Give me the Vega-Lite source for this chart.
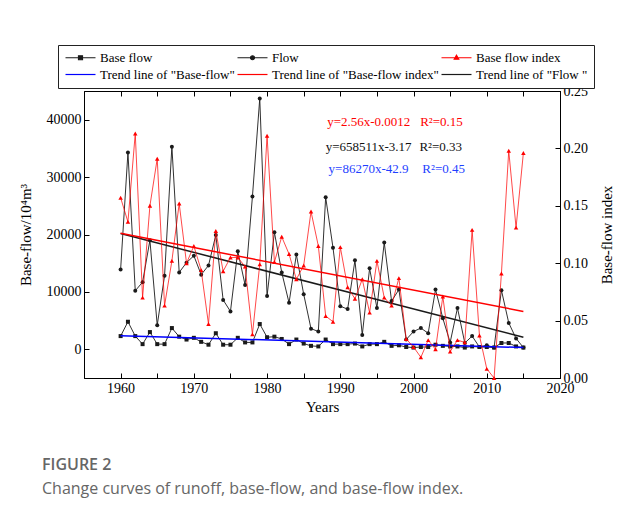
{
  "$schema": "https://vega.github.io/schema/vega-lite/v6.json",
  "width": 476,
  "height": 287,
  "autosize": {"type": "none"},
  "padding": {"left": 84, "top": 91, "right": 59, "bottom": 133},
  "background": "white",
  "config": {
    "view": {"stroke": "black", "strokeWidth": 1},
    "font": "Liberation Serif",
    "axis": {
      "labelFont": "Liberation Serif",
      "titleFont": "Liberation Serif",
      "labelFontSize": 14,
      "titleFontSize": 15,
      "titleFontWeight": "normal",
      "labelColor": "black",
      "titleColor": "black",
      "domainColor": "black",
      "tickColor": "black",
      "grid": false,
      "tickSize": -5,
      "labelPadding": 8,
      "labelOverlap": false
    }
  },
  "datasets": {
    "main": [
      {"year": 1960, "Flow": 13900, "Base flow": 2300, "Base flow index": 0.157},
      {"year": 1961, "Flow": 34300, "Base flow": 4800, "Base flow index": 0.136},
      {"year": 1962, "Flow": 10200, "Base flow": 2300, "Base flow index": 0.213},
      {"year": 1963, "Flow": 11700, "Base flow": 900, "Base flow index": 0.070},
      {"year": 1964, "Flow": 19000, "Base flow": 3000, "Base flow index": 0.150},
      {"year": 1965, "Flow": 4200, "Base flow": 900, "Base flow index": 0.191},
      {"year": 1966, "Flow": 12800, "Base flow": 900, "Base flow index": 0.063},
      {"year": 1967, "Flow": 35300, "Base flow": 3700, "Base flow index": 0.102},
      {"year": 1968, "Flow": 13400, "Base flow": 2200, "Base flow index": 0.152},
      {"year": 1969, "Flow": 15100, "Base flow": 1700, "Base flow index": 0.100},
      {"year": 1970, "Flow": 16300, "Base flow": 2000, "Base flow index": 0.115},
      {"year": 1971, "Flow": 13000, "Base flow": 1300, "Base flow index": 0.094},
      {"year": 1972, "Flow": 14600, "Base flow": 800, "Base flow index": 0.047},
      {"year": 1973, "Flow": 19900, "Base flow": 2800, "Base flow index": 0.128},
      {"year": 1974, "Flow": 8600, "Base flow": 800, "Base flow index": 0.093},
      {"year": 1975, "Flow": 6600, "Base flow": 800, "Base flow index": 0.105},
      {"year": 1976, "Flow": 17100, "Base flow": 2000, "Base flow index": 0.105},
      {"year": 1977, "Flow": 11200, "Base flow": 1200, "Base flow index": 0.097},
      {"year": 1978, "Flow": 26600, "Base flow": 1200, "Base flow index": 0.038},
      {"year": 1979, "Flow": 43700, "Base flow": 4400, "Base flow index": 0.099},
      {"year": 1980, "Flow": 9300, "Base flow": 2100, "Base flow index": 0.211},
      {"year": 1981, "Flow": 20400, "Base flow": 2200, "Base flow index": 0.101},
      {"year": 1982, "Flow": 13400, "Base flow": 1800, "Base flow index": 0.123},
      {"year": 1983, "Flow": 8100, "Base flow": 900, "Base flow index": 0.108},
      {"year": 1984, "Flow": 16500, "Base flow": 1700, "Base flow index": 0.086},
      {"year": 1985, "Flow": 9600, "Base flow": 1000, "Base flow index": 0.098},
      {"year": 1986, "Flow": 3600, "Base flow": 600, "Base flow index": 0.145},
      {"year": 1987, "Flow": 3100, "Base flow": 500, "Base flow index": 0.115},
      {"year": 1988, "Flow": 26500, "Base flow": 1700, "Base flow index": 0.054},
      {"year": 1989, "Flow": 17700, "Base flow": 900, "Base flow index": 0.049},
      {"year": 1990, "Flow": 7500, "Base flow": 900, "Base flow index": 0.114},
      {"year": 1991, "Flow": 7000, "Base flow": 900, "Base flow index": 0.079},
      {"year": 1992, "Flow": 15500, "Base flow": 1000, "Base flow index": 0.069},
      {"year": 1993, "Flow": 2500, "Base flow": 500, "Base flow index": 0.086},
      {"year": 1994, "Flow": 14100, "Base flow": 900, "Base flow index": 0.057},
      {"year": 1995, "Flow": 7200, "Base flow": 900, "Base flow index": 0.102},
      {"year": 1996, "Flow": 18600, "Base flow": 1300, "Base flow index": 0.070},
      {"year": 1997, "Flow": 8400, "Base flow": 600, "Base flow index": 0.063},
      {"year": 1998, "Flow": 10400, "Base flow": 700, "Base flow index": 0.087},
      {"year": 1999, "Flow": 1700, "Base flow": 400, "Base flow index": 0.034},
      {"year": 2000, "Flow": 3100, "Base flow": 300, "Base flow index": 0.027},
      {"year": 2001, "Flow": 3700, "Base flow": 400, "Base flow index": 0.018},
      {"year": 2002, "Flow": 2800, "Base flow": 400, "Base flow index": 0.033},
      {"year": 2003, "Flow": 10400, "Base flow": 800, "Base flow index": 0.025},
      {"year": 2004, "Flow": 5400, "Base flow": 600, "Base flow index": 0.071},
      {"year": 2005, "Flow": 1200, "Base flow": 500, "Base flow index": 0.023},
      {"year": 2006, "Flow": 7200, "Base flow": 500, "Base flow index": 0.033},
      {"year": 2007, "Flow": 1100, "Base flow": 300, "Base flow index": 0.031},
      {"year": 2008, "Flow": 2300, "Base flow": 500, "Base flow index": 0.129},
      {"year": 2009, "Flow": 400, "Base flow": 400, "Base flow index": 0.037},
      {"year": 2010, "Flow": 700, "Base flow": 400, "Base flow index": 0.008},
      {"year": 2011, "Flow": 300, "Base flow": 300, "Base flow index": 0.0},
      {"year": 2012, "Flow": 10300, "Base flow": 1100, "Base flow index": 0.091},
      {"year": 2013, "Flow": 4600, "Base flow": 1100, "Base flow index": 0.198},
      {"year": 2014, "Flow": 1900, "Base flow": 500, "Base flow index": 0.131},
      {"year": 2015, "Flow": 300, "Base flow": 300, "Base flow index": 0.196}
    ],
    "trendLeft": [
      {"series": "Trend line of \"Base-flow\"", "year": 1960, "value": 2380},
      {"series": "Trend line of \"Base-flow\"", "year": 2015, "value": 300},
      {"series": "Trend line of \"Flow \"", "year": 1960, "value": 20170},
      {"series": "Trend line of \"Flow \"", "year": 2015, "value": 2100}
    ],
    "trendRight": [
      {"series": "Trend line of \"Base-flow index\"", "year": 1960, "value": 0.126},
      {"series": "Trend line of \"Base-flow index\"", "year": 2015, "value": 0.058}
    ]
  },
  "title": {
    "text": "FIGURE 2",
    "subtitle": "Change curves of runoff, base-flow, and base-flow index.",
    "orient": "bottom",
    "anchor": "start",
    "frame": "group",
    "dx": -42,
    "offset": 43,
    "font": "Open Sans",
    "fontSize": 16,
    "fontWeight": 600,
    "color": "#666666",
    "subtitleFont": "Open Sans",
    "subtitleFontSize": 16,
    "subtitleColor": "#666666",
    "subtitlePadding": 8
  },
  "layer": [
    {
      "layer": [
        {
          "data": {"name": "main"},
          "transform": [{"fold": ["Base flow", "Flow"], "as": ["series", "value"]}],
          "mark": {"type": "line", "strokeWidth": 0.9},
          "encoding": {
            "x": {"field": "year", "type": "quantitative", "scale": {"domain": [1955, 2020], "nice": false, "zero": false},
              "axis": {"orient": "bottom", "title": "Years", "values": [1960, 1965, 1970, 1975, 1980, 1985, 1990, 1995, 2000, 2005, 2010, 2015, 2020],
                "labelExpr": "datum.value % 10 === 0 ? format(datum.value, 'd') : ''", "titlePadding": 4, "labelFlush": false}},
            "y": {"field": "value", "type": "quantitative", "scale": {"domain": [-5000, 45000], "nice": false, "zero": false},
              "axis": {"orient": "left", "title": "Base-flow/10⁴m³", "values": [0, 10000, 20000, 30000, 40000],
                "format": "d", "titlePadding": 13, "labelFlush": false}},
            "color": {"field": "series", "type": "nominal",
              "scale": {"domain": ["Base flow", "Flow", "Base flow index", "Trend line of \"Base-flow\"", "Trend line of \"Base-flow index\"", "Trend line of \"Flow \""],
                "range": ["#1a1a1a", "#1a1a1a", "#ff0000", "#0000ff", "#ff0000", "#1a1a1a"]},
              "legend": {
                "orient": "none", "legendX": -26, "legendY": -46, "columns": 3, "direction": "horizontal", "title": null,
                "labelFont": "Liberation Serif", "labelFontSize": 13, "labelColor": "black", "labelLimit": 400,
                "symbolSize": 100, "labelOffset": 23, "strokeColor": "#222222", "fillColor": "white",
                "padding": 6, "columnPadding": 0, "rowPadding": 3,
                "encode": {
                  "symbols": {
                    "update": {
                      "shape": {"signal": "datum.value === 'Base flow' ? 'M-1,0L5,0M1.6,-0.4h0.8v0.8h-0.8z' : datum.value === 'Flow' ? 'M-1,0L5,0M2.4,0A0.4,0.4,0,1,1,1.6,0A0.4,0.4,0,1,1,2.4,0' : datum.value === 'Base flow index' ? 'M-1,0L5,0M2,-0.5L2.45,0.3L1.55,0.3Z' : 'M-1,0L5,0'"},
                      "fill": {"scale": "color", "field": "value"},
                      "stroke": {"scale": "color", "field": "value"},
                      "strokeWidth": {"value": 1.2},
                      "opacity": {"value": 1}
                    }
                  }
                }
              }
            }
          }
        },
        {
          "data": {"name": "main"},
          "transform": [{"fold": ["Base flow", "Flow"], "as": ["series", "value"]}],
          "mark": {"type": "point", "filled": true, "size": 16, "opacity": 1},
          "encoding": {
            "x": {"field": "year", "type": "quantitative", "axis": null},
            "y": {"field": "value", "type": "quantitative"},
            "color": {"field": "series", "type": "nominal"},
            "shape": {"field": "series", "type": "nominal", "scale": {"domain": ["Base flow", "Flow", "Base flow index"], "range": ["square", "circle", "triangle-up"]}, "legend": null}
          }
        },
        {
          "data": {"name": "trendLeft"},
          "mark": {"type": "line", "strokeWidth": 1.5},
          "encoding": {
            "x": {"field": "year", "type": "quantitative",
              "axis": {"orient": "top", "title": null, "labels": false, "values": [1960, 1965, 1970, 1975, 1980, 1985, 1990, 1995, 2000, 2005, 2010, 2015, 2020]}},
            "y": {"field": "value", "type": "quantitative"},
            "color": {"field": "series", "type": "nominal"}
          }
        },
        {
          "data": {"values": [{"label": "y=2.56x-0.0012", "year": 1988.2, "value": 39600}, {"label": "R²=0.15", "year": 2000.9, "value": 39600}]},
          "mark": {"type": "text", "align": "left", "baseline": "middle", "font": "Liberation Serif", "fontSize": 13, "color": "#ff0000"},
          "encoding": {"x": {"field": "year", "type": "quantitative", "axis": null}, "y": {"field": "value", "type": "quantitative"}, "text": {"field": "label"}}
        },
        {
          "data": {"values": [{"label": "y=658511x-3.17", "year": 1988.0, "value": 35240}, {"label": "R²=0.33", "year": 2000.8, "value": 35240}]},
          "mark": {"type": "text", "align": "left", "baseline": "middle", "font": "Liberation Serif", "fontSize": 13, "color": "#111111"},
          "encoding": {"x": {"field": "year", "type": "quantitative", "axis": null}, "y": {"field": "value", "type": "quantitative"}, "text": {"field": "label"}}
        },
        {
          "data": {"values": [{"label": "y=86270x-42.9", "year": 1988.4, "value": 31410}, {"label": "R²=0.45", "year": 2001.2, "value": 31410}]},
          "mark": {"type": "text", "align": "left", "baseline": "middle", "font": "Liberation Serif", "fontSize": 13, "color": "#1f3fff"},
          "encoding": {"x": {"field": "year", "type": "quantitative", "axis": null}, "y": {"field": "value", "type": "quantitative"}, "text": {"field": "label"}}
        }
      ],
      "resolve": {"axis": {"x": "independent"}}
    },
    {
      "layer": [
        {
          "data": {"name": "main"},
          "transform": [{"fold": ["Base flow index"], "as": ["series", "value"]}],
          "mark": {"type": "line", "strokeWidth": 0.9, "opacity": 0.8},
          "encoding": {
            "x": {"field": "year", "type": "quantitative", "axis": null},
            "y": {"field": "value", "type": "quantitative", "scale": {"domain": [0, 0.25], "nice": false, "zero": false},
              "axis": {"orient": "right", "title": "Base-flow index", "titleAngle": 270, "titleBaseline": "top",
                "values": [0, 0.025, 0.05, 0.075, 0.1, 0.125, 0.15, 0.175, 0.2, 0.225, 0.25],
                "labelExpr": "abs(datum.value * 20 - round(datum.value * 20)) < 0.000001 ? format(datum.value, '.2f') : ''",
                "titlePadding": 12, "labelFlush": false}},
            "color": {"field": "series", "type": "nominal"}
          }
        },
        {
          "data": {"name": "main"},
          "transform": [{"fold": ["Base flow index"], "as": ["series", "value"]}],
          "mark": {"type": "point", "filled": true, "size": 20, "opacity": 1},
          "encoding": {
            "x": {"field": "year", "type": "quantitative", "axis": null},
            "y": {"field": "value", "type": "quantitative"},
            "color": {"field": "series", "type": "nominal"},
            "shape": {"field": "series", "type": "nominal", "legend": null}
          }
        },
        {
          "data": {"name": "trendRight"},
          "mark": {"type": "line", "strokeWidth": 1.5},
          "encoding": {
            "x": {"field": "year", "type": "quantitative", "axis": null},
            "y": {"field": "value", "type": "quantitative"},
            "color": {"field": "series", "type": "nominal"}
          }
        }
      ]
    }
  ],
  "resolve": {"scale": {"y": "independent"}, "axis": {"y": "independent", "x": "independent"}}
}
